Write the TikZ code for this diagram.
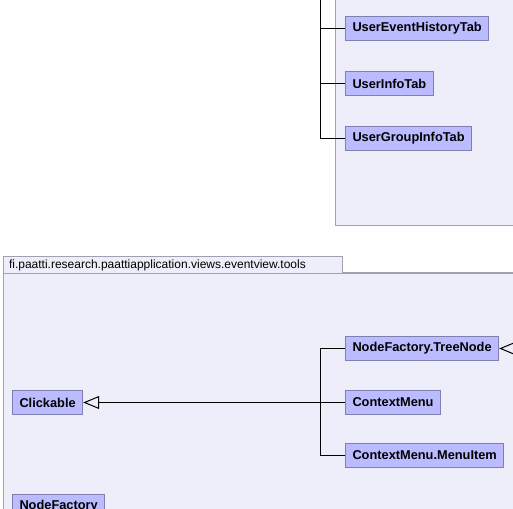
\documentclass[tikz,border=0pt]{standalone}
\usepackage{fontspec}
\setmainfont{Liberation Sans}
\usetikzlibrary{arrows.meta,positioning}

\definecolor{pkgFill}{HTML}{EEEEFA}
\definecolor{pkgLine}{HTML}{A0A0B0}
\definecolor{clsFill}{HTML}{BBBBFF}
\definecolor{clsLine}{HTML}{8080B0}

\begin{document}
\begin{tikzpicture}[
    x=0.75pt, y=-0.75pt,
    node distance=22.5pt and 0pt,
    pkgBody/.style={
        draw=pkgLine, fill=pkgFill, line width=0.75pt
    },
    pkgTab/.style={
        rectangle, draw=pkgLine, fill=pkgFill, line width=0.75pt,
        anchor=north west, minimum height=12.75pt, minimum width=254.25pt,
        inner xsep=3.75pt, inner ysep=0pt, align=left, text width=246pt,
        font=\fontsize{9}{10}\selectfont
    },
    classBox/.style={
        rectangle, draw=clsLine, fill=clsFill, line width=0.75pt,
        anchor=west, minimum height=18pt, inner xsep=5.25pt, inner ysep=0pt,
        font=\bfseries\fontsize{9.6}{11}\selectfont
    },
    assoc/.style={
        draw=black, line width=0.75pt
    },
    inherit/.style={
        -{Triangle[open, length=12pt, width=9.75pt]}, draw=black, line width=0.75pt
    }
]
\useasboundingbox (0,0) rectangle (513,509);
\clip (0,0) rectangle (513,509);
\fill[white] (0,0) rectangle (513,509);

% Top: package (only partly visible)
\draw[pkgBody] (335,-10) rectangle (530,226);

\node[classBox] (evhist) at (345,28.5) {UserEventHistoryTab};
\node[classBox, below right=of evhist.south west] (info) {UserInfoTab};
\node[classBox, below right=of info.south west] (grpinfo) {UserGroupInfoTab};

\coordinate (topin) at (320.5,-10);
\draw[assoc] (topin) |- (evhist);
\draw[assoc] (topin) |- (info);
\draw[assoc] (topin) |- (grpinfo);

% Bottom: package eventview.tools
\draw[pkgBody] (3,273) rectangle (530,530);
\node[pkgTab] (tab) at (3,256) {fi.paatti.research.paattiapplication.views.eventview.tools};

\node[classBox] (treenode) at (345,348.5) {NodeFactory.TreeNode};
\node[classBox] (ctxmenu) at (345,402.5) {ContextMenu};
\node[classBox] (menuitem) at (345,455.5) {ContextMenu.MenuItem};
\node[classBox] (clickable) at (12,402.5) {Clickable};
\node[classBox] (nodefactory) at (12,506.5) {NodeFactory};

% Inheritance
\coordinate (fork) at (320.5,402.5);
\coordinate (sub) at (545,348.5);
\draw[inherit] (ctxmenu) -- (clickable);
\draw[assoc] (treenode) -| (fork);
\draw[assoc] (menuitem) -| (fork);
\draw[inherit] (sub) -- (treenode);

\end{tikzpicture}
\end{document}
